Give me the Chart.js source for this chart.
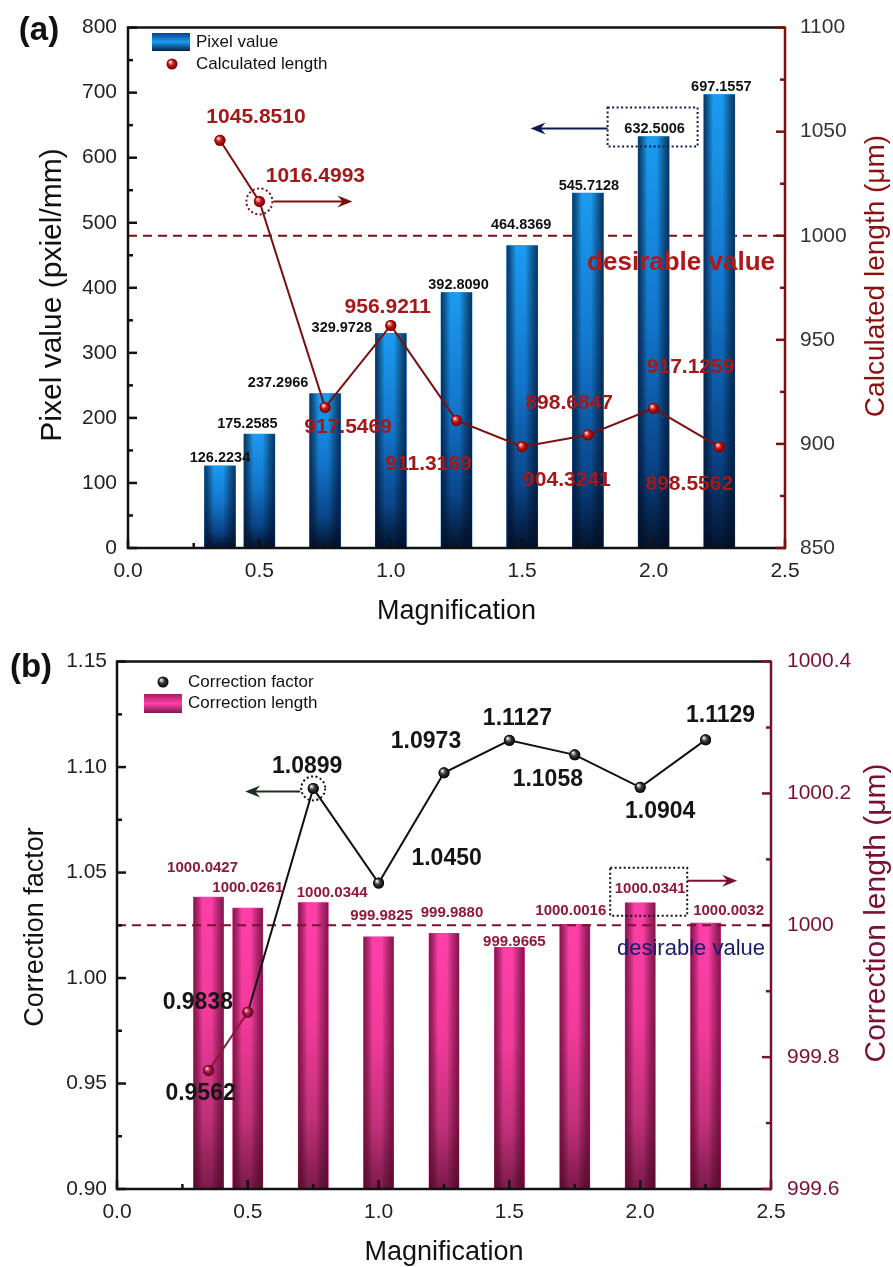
<!DOCTYPE html>
<html>
<head>
<meta charset="utf-8">
<script src="https://cdn.jsdelivr.net/npm/chart.js@4.4.1/dist/chart.umd.min.js"></script>
<style>
  body { margin: 0; background: #fff; }
  canvas { display: block; }
</style>
</head>
<body>
<canvas id="chartA" width="893" height="633"></canvas>
<canvas id="chartB" width="893" height="634"></canvas>
<script>
/* =========================
   DATA
   ========================= */

const magnification = [0.35, 0.5, 0.75, 1.0, 1.25, 1.5, 1.75, 2.0, 2.25];

/* (a) */
const pixelValue = [126.2234, 175.2585, 237.2966, 329.9728, 392.8090, 464.8369, 545.7128, 632.5006, 697.1557];
const calcLength = [1045.8510, 1016.4993, 917.5469, 956.9211, 911.3169, 898.6847, 904.3241, 917.1259, 898.5562];

/* (b) */
const corrFactor = [0.9562, 0.9838, 1.0899, 1.0450, 1.0973, 1.1127, 1.1058, 1.0904, 1.1129];
const corrLength = [1000.0427, 1000.0261, 1000.0344, 999.9825, 999.9880, 999.9665, 1000.0016, 1000.0341, 1000.0032];

const desirable = 1000;

/* axis ranges [min, max, step] */
const rangeA = { left: [0, 800, 100], right: [850, 1100, 50] };
const rangeB = { left: [0.9, 1.15, 0.05], right: [999.6, 1000.4, 0.2] };

/* label offsets (px) from each mark */
const pixelLabelOff = [[0, -8], [-12, -10], [-47, -11], [-49, -5], [2, -7], [-1, -21], [1, -7], [1, -8], [2, -8]];
const calcLabelOff = [[36, -23], [56, -25], [23, 20], [-3, -18], [-28, 44], [47, -43], [-21, 45], [37, -41], [-30, 37]];
const factorLabelOff = [[-8, 23], [-50, -10], [-6, -22], [68, -24], [-18, -31], [8, -22], [-27, 25], [20, 24], [15, -24]];
const lengthLabelOff = [[-6, -29], [0, -20], [19, -10], [3, -21], [8, -20], [5, -6], [-4, -13], [10, -14], [23, -12]];

const FONT = '"Liberation Sans", Arial, sans-serif';

/* =========================
   DRAW HELPERS
   ========================= */

function txt(ctx, s, x, y, size, color, opts = {}) {
  ctx.save();
  ctx.font = (opts.bold ? "bold " : "") + size + "px " + FONT;
  ctx.fillStyle = color;
  ctx.textAlign = opts.align || "center";
  ctx.textBaseline = "middle";
  if (opts.rotate) {
    ctx.translate(x, y);
    ctx.rotate(opts.rotate);
    ctx.fillText(s, 0, 0);
  } else {
    ctx.fillText(s, x, y);
  }
  ctx.restore();
}

function sphere(ctx, x, y, r, light, mid, dark) {
  const g = ctx.createRadialGradient(x - r * 0.35, y - r * 0.4, r * 0.1, x, y, r);
  g.addColorStop(0, light);
  g.addColorStop(0.45, mid);
  g.addColorStop(1, dark);
  ctx.beginPath();
  ctx.arc(x, y, r, 0, Math.PI * 2);
  ctx.fillStyle = g;
  ctx.fill();
}

function arrow(ctx, x1, y, x2, color) {
  const dir = Math.sign(x2 - x1);
  ctx.save();
  ctx.strokeStyle = color;
  ctx.fillStyle = color;
  ctx.lineWidth = 2;
  ctx.beginPath();
  ctx.moveTo(x1, y);
  ctx.lineTo(x2 - dir * 8, y);
  ctx.stroke();
  ctx.beginPath();
  ctx.moveTo(x2, y);
  ctx.lineTo(x2 - dir * 15, y - 6);
  ctx.lineTo(x2 - dir * 10, y);
  ctx.lineTo(x2 - dir * 15, y + 6);
  ctx.closePath();
  ctx.fill();
  ctx.restore();
}

function dotted(ctx, color, fn) {
  ctx.save();
  ctx.strokeStyle = color;
  ctx.lineWidth = 2;
  ctx.setLineDash([2, 2.5]);
  ctx.beginPath();
  fn();
  ctx.stroke();
  ctx.restore();
}

function dashedLevel(chart, scaleId, value, color) {
  const ctx = chart.ctx, a = chart.chartArea;
  const y = chart.scales[scaleId].getPixelForValue(value);
  ctx.save();
  ctx.strokeStyle = color;
  ctx.lineWidth = 2;
  ctx.setLineDash([9, 6]);
  ctx.beginPath();
  ctx.moveTo(a.left, y);
  ctx.lineTo(a.right, y);
  ctx.stroke();
  ctx.restore();
}

function paintBars(chart, meta, stops, edge) {
  const ctx = chart.ctx;
  meta.data.forEach(el => {
    const { x, y, base, width } = el.getProps(["x", "y", "base", "width"], true);
    const l = x - width / 2, top = Math.min(y, base), h = Math.abs(base - y);
    const gv = ctx.createLinearGradient(0, top, 0, top + h);
    stops.forEach(([o, c]) => gv.addColorStop(o, c));
    ctx.fillStyle = gv;
    ctx.fillRect(l, top, width, h);
    const gh = ctx.createLinearGradient(l, 0, l + width, 0);
    gh.addColorStop(0, edge);
    gh.addColorStop(0.3, "rgba(0,0,0,0)");
    gh.addColorStop(0.6, "rgba(0,0,0,0)");
    gh.addColorStop(1, edge);
    ctx.fillStyle = gh;
    ctx.fillRect(l, top, width, h);
  });
}

/* inward ticks + box frame */
function frame(chart, leftId, rightId, rightColor, steps) {
  const ctx = chart.ctx, a = chart.chartArea;
  ctx.save();
  ctx.lineWidth = 2.5;

  const ticks = (scale, step, draw) => {
    const n = Math.round((scale.max - scale.min) / step);
    for (let i = 0; i <= n; i++) {
      const p = scale.getPixelForValue(scale.min + i * step);
      draw(p, i % 2 === 0 ? 9 : 5);
    }
  };

  ctx.strokeStyle = "#111";
  ticks(chart.scales.x, steps.x, (p, len) => {
    ctx.beginPath(); ctx.moveTo(p, a.bottom); ctx.lineTo(p, a.bottom - len); ctx.stroke();
  });
  ticks(chart.scales[leftId], steps.left, (p, len) => {
    ctx.beginPath(); ctx.moveTo(a.left, p); ctx.lineTo(a.left + len, p); ctx.stroke();
  });

  ctx.beginPath();
  ctx.moveTo(a.right, a.top); ctx.lineTo(a.left, a.top);
  ctx.lineTo(a.left, a.bottom); ctx.lineTo(a.right, a.bottom);
  ctx.stroke();

  ctx.strokeStyle = rightColor;
  ticks(chart.scales[rightId], steps.right, (p, len) => {
    ctx.beginPath(); ctx.moveTo(a.right, p); ctx.lineTo(a.right - len, p); ctx.stroke();
  });
  ctx.beginPath();
  ctx.moveTo(a.right, a.top - 1.2); ctx.lineTo(a.right, a.bottom + 1.2);
  ctx.stroke();
  ctx.restore();
}

function axisScales(cfg) {
  const tickFont = { size: 21, family: FONT };
  const common = { grid: { display: false, drawTicks: false }, border: { display: false } };
  return {
    x: {
      ...common, type: "linear", min: 0, max: 2.5, offset: false,
      ticks: { stepSize: 0.5, padding: 11, color: "#222", font: tickFont, autoSkip: false, callback: v => v.toFixed(1) },
      afterFit: s => { s.height = cfg.xH; }
    },
    y: {
      ...common, position: "left", min: cfg.left[0], max: cfg.left[1],
      ticks: { stepSize: cfg.left[2], padding: cfg.leftPad, color: "#222", font: tickFont, callback: cfg.leftFmt },
      afterFit: s => { s.width = cfg.leftW; }
    },
    y1: {
      ...common, position: "right", min: cfg.right[0], max: cfg.right[1],
      ticks: { stepSize: cfg.right[2], padding: cfg.rightPad, color: cfg.rightTickColor, font: tickFont, callback: cfg.rightFmt },
      afterFit: s => { s.width = cfg.rightW; }
    }
  };
}

/* =========================
   CHART (a)
   ========================= */

const RED = "#a31818";
const DARKRED = "#7a1010";

const decorA = {
  id: "decorA",
  beforeDatasetsDraw(chart) {
    dashedLevel(chart, "y1", desirable, DARKRED);
  },
  afterDatasetDraw(chart, args) {
    if (args.meta.type !== "bar") return;
    paintBars(chart, args.meta,
      [[0, "#1b9bf0"], [0.45, "#1276cc"], [0.8, "#0a4488"], [1, "#03142e"]],
      "rgba(2,18,50,0.75)");
  },
  afterDatasetsDraw(chart) {
    const ctx = chart.ctx, a = chart.chartArea;
    const line = chart.getDatasetMeta(0), bars = chart.getDatasetMeta(1);

    line.data.forEach(pt => sphere(ctx, pt.x, pt.y, 5.5, "#ffd0d0", "#c81818", "#6a0000"));

    bars.data.forEach((b, i) => {
      txt(ctx, pixelValue[i].toFixed(4), b.x + pixelLabelOff[i][0], b.y + pixelLabelOff[i][1], 14.5, "#111", { bold: true });
    });
    line.data.forEach((pt, i) => {
      txt(ctx, calcLength[i].toFixed(4), pt.x + calcLabelOff[i][0], pt.y + calcLabelOff[i][1], 21, RED, { bold: true });
    });

    const yDes = chart.scales.y1.getPixelForValue(desirable);
    txt(ctx, "desirable value", a.right - 10, yDes + 27, 26, "#b01818", { bold: true, align: "right" });

    // highlighted point at 0.5 -> right axis
    const p1 = line.data[1];
    dotted(ctx, DARKRED, () => ctx.arc(p1.x, p1.y, 13, 0, Math.PI * 2));
    arrow(ctx, p1.x + 14, p1.y, p1.x + 93, DARKRED);

    // boxed bar label at 2.0 -> left axis
    const b7 = bars.data[7];
    const bx = b7.x + pixelLabelOff[7][0], by = b7.y + pixelLabelOff[7][1];
    dotted(ctx, "#101850", () => ctx.rect(bx - 47, by - 21, 90, 39));
    arrow(ctx, bx - 47, by, bx - 124, "#101850");

    // legend
    const lg = ctx.createLinearGradient(0, 33, 0, 51);
    lg.addColorStop(0, "#0a3f8a"); lg.addColorStop(0.5, "#1b9bf0"); lg.addColorStop(1, "#04204a");
    ctx.fillStyle = lg;
    ctx.fillRect(a.left + 24, 33, 38, 18);
    txt(ctx, "Pixel value", a.left + 68, 42, 17, "#111", { align: "left" });
    sphere(ctx, a.left + 44, 64, 5.5, "#ffd0d0", "#c81818", "#6a0000");
    txt(ctx, "Calculated length", a.left + 68, 64, 17, "#111", { align: "left" });

    frame(chart, "y", "y1", DARKRED, { x: 0.25, left: 50, right: 25 });

    // titles
    txt(ctx, "(a)", 39, 31, 33, "#111", { bold: true });
    txt(ctx, "Magnification", (a.left + a.right) / 2, 612, 27, "#111");
    txt(ctx, "Pixel value (pxiel/mm)", 53, 295, 30, "#111", { rotate: -Math.PI / 2 });
    txt(ctx, "Calculated length (\u03bcm)", 876, 276, 28, "#8b1010", { rotate: -Math.PI / 2 });
  }
};

new Chart(document.getElementById("chartA"), {
  type: "bar",
  data: {
    datasets: [
      {
        type: "line",
        label: "Calculated length",
        data: magnification.map((m, i) => ({ x: m, y: calcLength[i] })),
        yAxisID: "y1",
        borderColor: DARKRED,
        borderWidth: 2,
        tension: 0,
        pointRadius: 5.5,
        pointBackgroundColor: "#c81818",
        pointBorderWidth: 0,
        order: 0
      },
      {
        label: "Pixel value",
        data: magnification.map((m, i) => ({ x: m, y: pixelValue[i] })),
        yAxisID: "y",
        backgroundColor: "#1580d0",
        borderWidth: 0,
        barThickness: 31,
        order: 1
      }
    ]
  },
  options: {
    responsive: false,
    animation: false,
    devicePixelRatio: 1,
    layout: { padding: { top: 21 } },
    plugins: { legend: { display: false }, tooltip: { enabled: false } },
    scales: axisScales({
      xH: 85, leftW: 128, rightW: 108, leftPad: 11, rightPad: 15,
      left: rangeA.left, right: rangeA.right,
      rightTickColor: "#333",
      leftFmt: v => String(v), rightFmt: v => String(v)
    })
  },
  plugins: [decorA]
});

/* =========================
   CHART (b)
   ========================= */

const MAROON = "#7a1030";

const decorB = {
  id: "decorB",
  afterDatasetDraw(chart, args) {
    if (args.meta.type !== "bar") return;
    paintBars(chart, args.meta,
      [[0, "#ff3fa8"], [0.4, "#f23a9a"], [0.75, "#c2307a"], [1, "#7c1a4a"]],
      "rgba(90,0,40,0.7)");
    dashedLevel(chart, "y1", desirable, MAROON);
  },
  afterDatasetsDraw(chart) {
    const ctx = chart.ctx, a = chart.chartArea;
    const line = chart.getDatasetMeta(0), bars = chart.getDatasetMeta(1);

    line.data.forEach((pt, i) => {
      if (i < 2) sphere(ctx, pt.x, pt.y, 5.5, "#ffb0c8", "#b01848", "#5a0020");
      else sphere(ctx, pt.x, pt.y, 5.5, "#e8e8e8", "#3a3a3a", "#000");
    });

    bars.data.forEach((b, i) => {
      txt(ctx, corrLength[i].toFixed(4), b.x + lengthLabelOff[i][0], b.y + lengthLabelOff[i][1], 15, "#8e1838", { bold: true });
    });
    line.data.forEach((pt, i) => {
      txt(ctx, corrFactor[i].toFixed(4), pt.x + factorLabelOff[i][0], pt.y + factorLabelOff[i][1], 23, "#151515", { bold: true });
    });

    const yDes = chart.scales.y1.getPixelForValue(desirable);
    txt(ctx, "desirable value", a.right - 6, yDes + 24, 22, "#1a1a70", { align: "right" });

    // highlighted point at 0.75 -> left axis
    const p2 = line.data[2];
    dotted(ctx, "#111", () => ctx.arc(p2.x, p2.y, 12, 0, Math.PI * 2));
    arrow(ctx, p2.x - 13, p2.y + 3, p2.x - 68, "#1e2e1e");

    // boxed bar label at 2.0 -> right axis
    const b7 = bars.data[7];
    const bx = b7.x + lengthLabelOff[7][0], by = b7.y + lengthLabelOff[7][1];
    dotted(ctx, "#111", () => ctx.rect(bx - 40, by - 21, 77, 48));
    arrow(ctx, bx + 37, by - 8, bx + 87, MAROON);

    // legend
    sphere(ctx, a.left + 46, 682 - 633, 5.5, "#e8e8e8", "#3a3a3a", "#000");
    txt(ctx, "Correction factor", a.left + 71, 682 - 633, 17, "#111", { align: "left" });
    const lg = ctx.createLinearGradient(0, 694 - 633, 0, 713 - 633);
    lg.addColorStop(0, "#a0205a"); lg.addColorStop(0.5, "#ff3fa8"); lg.addColorStop(1, "#7c1a4a");
    ctx.fillStyle = lg;
    ctx.fillRect(a.left + 27, 694 - 633, 38, 19);
    txt(ctx, "Correction length", a.left + 71, 703 - 633, 17, "#111", { align: "left" });

    frame(chart, "y", "y1", MAROON, { x: 0.25, left: 0.025, right: 0.1 });

    // titles
    txt(ctx, "(b)", 31, 668 - 633, 33, "#111", { bold: true });
    txt(ctx, "Magnification", (a.left + a.right) / 2, 1253 - 633, 27, "#111");
    txt(ctx, "Correction factor", 36, 927 - 633, 27, "#111", { rotate: -Math.PI / 2 });
    txt(ctx, "Correction length (\u03bcm)", 877, 913 - 633, 30, MAROON, { rotate: -Math.PI / 2 });
  }
};

new Chart(document.getElementById("chartB"), {
  type: "bar",
  data: {
    datasets: [
      {
        type: "line",
        label: "Correction factor",
        data: magnification.map((m, i) => ({ x: m, y: corrFactor[i] })),
        yAxisID: "y",
        borderColor: "#111",
        borderWidth: 2,
        tension: 0,
        segment: { borderColor: c => (c.p1DataIndex === 1 ? "#8a1838" : "#111") },
        pointRadius: 5.5,
        pointBackgroundColor: "#222",
        pointBorderWidth: 0,
        order: 0
      },
      {
        label: "Correction length",
        data: magnification.map((m, i) => ({ x: m, y: corrLength[i] })),
        yAxisID: "y1",
        base: rangeB.right[0],
        backgroundColor: "#f03a9a",
        borderWidth: 0,
        barThickness: 30,
        order: 1
      }
    ]
  },
  options: {
    responsive: false,
    animation: false,
    devicePixelRatio: 1,
    layout: { padding: { top: 27 } },
    plugins: { legend: { display: false }, tooltip: { enabled: false } },
    scales: axisScales({
      xH: 78, leftW: 117, rightW: 122, leftPad: 10, rightPad: 16,
      left: rangeB.left, right: rangeB.right,
      rightTickColor: MAROON,
      leftFmt: v => Number(v).toFixed(2),
      rightFmt: v => String(parseFloat(Number(v).toFixed(1)))
    })
  },
  plugins: [decorB]
});
</script>
</body>
</html>
